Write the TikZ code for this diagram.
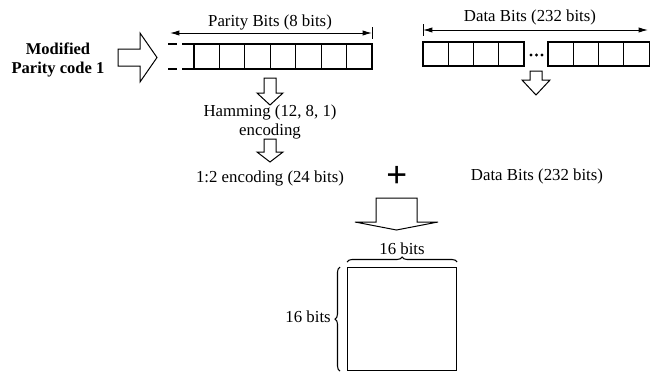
\documentclass[tikz,border=0pt]{standalone}
\usepackage{fontspec}
\setmainfont{Liberation Serif}
\usetikzlibrary{arrows.meta,decorations.pathreplacing,positioning,calc}
\tikzset{
	lbl/.style={font=\fontsize{12.6}{14.3}\selectfont, inner sep=0pt},
	lblb/.style={font=\fontsize{12.4}{14.3}\selectfont\bfseries, inner sep=0pt},
	reg/.style={line width=0.8pt},
	blk/.style={line width=0.75pt, line join=miter},
	dim/.style={line width=0.7pt, {Latex[length=7pt,width=4pt]}-{Latex[length=7pt,width=4pt]}},
	brc/.style={line width=0.8pt, decorate, decoration={brace, amplitude=3.75pt}}
}
% hollow down arrow: x, top, head base, tip, half shaft, half head
\newcommand{\hdown}[6]{\draw[blk] (#1-#5,#2) -- (#1+#5,#2) -- (#1+#5,#3) -- (#1+#6,#3) -- (#1,#4) -- (#1-#6,#3) -- (#1-#5,#3) -- cycle;}

\begin{document}
\begin{tikzpicture}[x=0.75pt,y=-0.75pt]
  \useasboundingbox (0,0) rectangle (650,372);
  % left label and big arrow
  \node[lblb, align=center] (modlbl) at (58,60) {Modified\\Parity code 1};
  \draw[blk] (118,49) -- (140,49) -- (140,33) -- (157,57.5) -- (140,82) -- (140,66) -- (118,66) -- cycle;
  % parity register
  \draw[reg] (194,44) rectangle (372,69);
  \foreach \i in {1,...,6}
    \draw[reg] (194+\i*25.43,44) -- ++(0,25);
  \draw[reg] (168,44) -- (177,44) (182,44) -- (194,44)
             (168,69) -- (177,69) (182,69) -- (194,69);
  \coordinate (pL) at (170,33);
  \coordinate (pR) at (372,33);
  \draw[dim] (pL) -- (pR);
  \draw[line width=0.7pt] ($(pR)+(0,-6)$) -- ($(pR)+(0,6)$);
  \node[lbl] (plbl) at (270,22) {Parity Bits (8 bits)};
  % data register
  \foreach \i in {0,...,3} {
    \draw[reg] (423+\i*25.25,42) rectangle ++(25.25,24);
    \draw[reg] (548+\i*25.3,42) rectangle ++(25.3,24);
  }
  \foreach \x in {531,536.5,542}
    \fill (\x,55) circle (1.2pt);
  \coordinate (dL) at (423,30);
  \coordinate (dR) at (648,30);
  \draw[dim] (dL) -- (dR);
  \draw[line width=0.7pt] ($(dL)+(0,-6)$) -- ($(dL)+(0,6)$);
  \node[lbl] (dlbl) at (530,17) {Data Bits (232 bits)};
  % small arrows
  \hdown{270}{78}{93}{105}{6}{13}
  \hdown{270}{139}{152}{162}{6}{13}
  \hdown{536}{71}{80}{95}{6}{14}
  % encoding steps
  \node[lbl, align=center] (hamm) at (270,122) {Hamming (12, 8, 1)\\encoding};
  \node[lbl] (enc) at (270,178) {1:2 encoding (24 bits)};
  \node[font=\fontsize{28}{30}\selectfont\bfseries, inner sep=0pt] (plus) at (397,177) {+};
  \node[lbl] (data2) at (537,176) {Data Bits (232 bits)};
  % big down arrow
  \hdown{396.5}{198}{222}{230}{20.5}{41.5}
  % 16 x 16 block
  \node[draw, reg, minimum width=81.75pt, minimum height=77.25pt, inner sep=0pt, anchor=north west] (sq) at (347,267) {};
  \draw[brc] ([yshift=3.75pt]sq.north west) -- ([yshift=3.75pt]sq.north east);
  \draw[brc] ([xshift=-5.25pt]sq.south west) -- ([xshift=-5.25pt]sq.north west);
  \node[lbl] (top16) at (402,249) {16 bits};
  \node[lbl, anchor=east] (left16) at (331,317) {16 bits};
\end{tikzpicture}
\end{document}
